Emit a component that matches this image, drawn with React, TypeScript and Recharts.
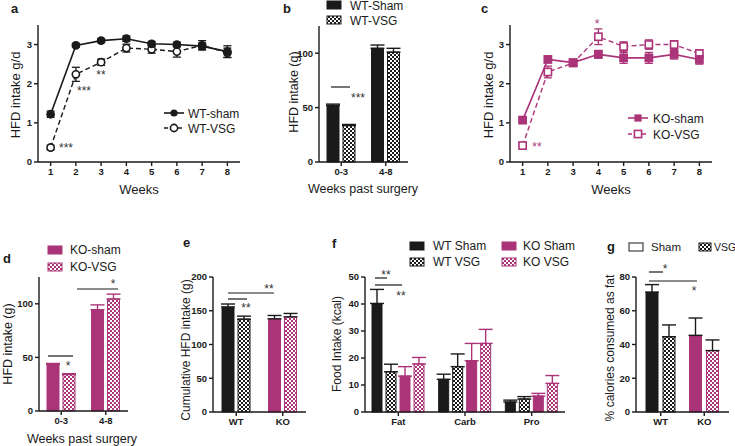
import React from 'react';
import { LineChart, Line, BarChart, Bar, XAxis, YAxis, ErrorBar, Cell } from 'recharts';

const FONT = '"Liberation Sans", Arial, Helvetica, sans-serif';
const INK = '#1a1a1a';
const MAGENTA = '#ab3479';

// a / c: weekly intake (g/d)
const weeks = [1, 2, 3, 4, 5, 6, 7, 8];
const wtShamDaily = [1.22, 2.98, 3.1, 3.15, 3.02, 3.0, 2.96, 2.82];
const wtShamDailyErr = [0.08, 0.05, 0.05, 0.07, 0.06, 0.06, 0.08, 0.15];
const wtVsgDaily = [0.37, 2.24, 2.55, 2.91, 2.88, 2.82, 2.98, 2.79];
const wtVsgDailyErr = [0.06, 0.18, 0.08, 0.1, 0.1, 0.14, 0.12, 0.12];
const koShamDaily = [1.07, 2.62, 2.54, 2.75, 2.66, 2.66, 2.75, 2.62];
const koShamDailyErr = [0.05, 0.07, 0.08, 0.1, 0.14, 0.14, 0.12, 0.12];
const koVsgDaily = [0.42, 2.3, 2.53, 3.2, 2.95, 3.0, 3.0, 2.77];
const koVsgDailyErr = [0.08, 0.15, 0.08, 0.2, 0.12, 0.12, 0.1, 0.1];

// b / d: intake per period (g)
const periods = ['0-3', '4-8'];
const wtShamPeriod = [52, 104.5];
const wtShamPeriodErr = [1.2, 3];
const wtVsgPeriod = [33.5, 101];
const wtVsgPeriodErr = [1, 3.5];
const koShamPeriod = [43.5, 94.5];
const koShamPeriodErr = [0.8, 4.5];
const koVsgPeriod = [34, 104.5];
const koVsgPeriodErr = [0.8, 4.5];

// e: cumulative intake (g)
const genotypes = ['WT', 'KO'];
const cumSham = [155.5, 138];
const cumShamErr = [4.5, 5];
const cumVsg = [137.5, 141];
const cumVsgErr = [4.5, 5];

// f: food intake by macronutrient (kcal)
const macros = ['Fat', 'Carb', 'Pro'];
const kcalWtSham = [40.2, 12.1, 3.7];
const kcalWtShamErr = [5.2, 1.9, 0.7];
const kcalWtVsg = [14.9, 16.8, 4.8];
const kcalWtVsgErr = [2.8, 4.7, 0.9];
const kcalKoSham = [13.3, 19, 5.9];
const kcalKoShamErr = [3.5, 6.4, 1];
const kcalKoVsg = [17.8, 25.4, 10.6];
const kcalKoVsgErr = [2.4, 5.2, 2.9];

// g: % calories as fat
const fatSham = [71, 45.4];
const fatShamErr = [4.5, 10.3];
const fatVsg = [44.6, 36.4];
const fatVsgErr = [7, 6.3];

const dailyWT = weeks.map((w, i) => ({
  week: w, sham: wtShamDaily[i], shamErr: wtShamDailyErr[i], vsg: wtVsgDaily[i], vsgErr: wtVsgDailyErr[i],
}));
const dailyKO = weeks.map((w, i) => ({
  week: w, sham: koShamDaily[i], shamErr: koShamDailyErr[i], vsg: koVsgDaily[i], vsgErr: koVsgDailyErr[i],
}));
const periodWT = periods.map((p, i) => ({
  period: p, sham: wtShamPeriod[i], shamErr: [0, wtShamPeriodErr[i]], vsg: wtVsgPeriod[i], vsgErr: [0, wtVsgPeriodErr[i]],
}));
const periodKO = periods.map((p, i) => ({
  period: p, sham: koShamPeriod[i], shamErr: [0, koShamPeriodErr[i]], vsg: koVsgPeriod[i], vsgErr: [0, koVsgPeriodErr[i]],
}));
const cumData = genotypes.map((g, i) => ({
  genotype: g, sham: cumSham[i], shamErr: [0, cumShamErr[i]], vsg: cumVsg[i], vsgErr: [0, cumVsgErr[i]],
}));
const kcalData = macros.map((m, i) => ({
  macro: m,
  wtSham: kcalWtSham[i], wtShamErr: [0, kcalWtShamErr[i]],
  wtVsg: kcalWtVsg[i], wtVsgErr: [0, kcalWtVsgErr[i]],
  koSham: kcalKoSham[i], koShamErr: [0, kcalKoShamErr[i]],
  koVsg: kcalKoVsg[i], koVsgErr: [0, kcalKoVsgErr[i]],
}));
const fatData = genotypes.map((g, i) => ({
  genotype: g, sham: fatSham[i], shamErr: [0, fatShamErr[i]], vsg: fatVsg[i], vsgErr: [0, fatVsgErr[i]],
}));

const tickStyle = { fontSize: 9.5, fontWeight: 'bold', fill: INK, fontFamily: FONT };
const axisLine = { stroke: INK, strokeWidth: 1.4 };
const shamFill = [INK, MAGENTA];
const vsgFill = ['url(#chkBlack)', 'url(#chkPink)'];

const circleDot = (color: string, open: boolean) => (p: any) => (
  <circle key={`c-${p.index}`} cx={p.cx} cy={p.cy} r={3.6} fill={open ? '#fff' : color} stroke={color} strokeWidth={1.6} />
);
const squareDot = (color: string, open: boolean) => (p: any) => (
  <rect key={`s-${p.index}`} x={p.cx - 3.6} y={p.cy - 3.6} width={7.2} height={7.2} fill={open ? '#fff' : color} stroke={color} strokeWidth={1.6} />
);

function WeeklyChart({ data, color, square }: { data: any[]; color: string; square?: boolean }) {
  const dot = square ? squareDot : circleDot;
  return (
    <LineChart width={245} height={200} data={data} margin={{ top: 25, right: 5, left: 0, bottom: 0 }}>
      <XAxis dataKey="week" type="number" domain={[0.5, 8.5]} ticks={weeks} height={38}
        tick={tickStyle} tickSize={4} axisLine={axisLine} tickLine={axisLine} />
      <YAxis type="number" domain={[0, 3.5]} ticks={[0, 1, 2, 3]} width={38}
        tick={tickStyle} tickSize={4} axisLine={axisLine} tickLine={axisLine} />
      <Line dataKey="vsg" stroke={color} strokeWidth={1.4} strokeDasharray="5 3" dot={dot(color, true)} isAnimationActive={false}>
        <ErrorBar dataKey="vsgErr" direction="y" width={4} stroke={color} strokeWidth={1.3} />
      </Line>
      <Line dataKey="sham" stroke={color} strokeWidth={1.6} dot={dot(color, false)} isAnimationActive={false}>
        <ErrorBar dataKey="shamErr" direction="y" width={4} stroke={color} strokeWidth={1.3} />
      </Line>
    </LineChart>
  );
}

function PeriodChart({ data, color, pattern, top, xHeight }: { data: any[]; color: string; pattern: string; top: number; xHeight: number }) {
  return (
    <BarChart width={135} height={200} data={data} barSize={12} barGap={4}
      margin={{ top, right: 7, left: 0, bottom: 0 }}>
      <XAxis dataKey="period" height={xHeight} tick={tickStyle} tickSize={4} axisLine={axisLine} tickLine={axisLine} />
      <YAxis type="number" domain={[0, 125]} ticks={[0, 50, 100]} width={39}
        tick={tickStyle} tickSize={4} axisLine={axisLine} tickLine={axisLine} />
      <Bar dataKey="sham" fill={color} stroke={color} strokeWidth={1} isAnimationActive={false}>
        <ErrorBar dataKey="shamErr" width={7} stroke={color} strokeWidth={1.4} />
      </Bar>
      <Bar dataKey="vsg" fill={pattern} stroke={color} strokeWidth={1} isAnimationActive={false}>
        <ErrorBar dataKey="vsgErr" width={7} stroke={color} strokeWidth={1.4} />
      </Bar>
    </BarChart>
  );
}

function GenotypeChart({ data, max, ticks, gap, padding }: { data: any[]; max: number; ticks: number[]; gap: number; padding?: any }) {
  return (
    <BarChart width={135} height={200} data={data} barSize={12} barGap={gap}
      margin={{ top: 37, right: 4, left: 0, bottom: 0 }}>
      <XAxis dataKey="genotype" height={28} padding={padding} tick={tickStyle} tickSize={4} axisLine={axisLine} tickLine={axisLine} />
      <YAxis type="number" domain={[0, max]} ticks={ticks} width={38}
        tick={tickStyle} tickSize={4} axisLine={axisLine} tickLine={axisLine} />
      <Bar dataKey="sham" isAnimationActive={false} strokeWidth={1}>
        {data.map((_, i) => <Cell key={`sh-${i}`} fill={shamFill[i]} stroke={shamFill[i]} />)}
        <ErrorBar dataKey="shamErr" width={7} stroke={INK} strokeWidth={1.4} />
      </Bar>
      <Bar dataKey="vsg" isAnimationActive={false} strokeWidth={1}>
        {data.map((_, i) => <Cell key={`vs-${i}`} fill={vsgFill[i]} stroke={shamFill[i]} />)}
        <ErrorBar dataKey="vsgErr" width={7} stroke={INK} strokeWidth={1.4} />
      </Bar>
    </BarChart>
  );
}

function KcalChart() {
  const series = [
    { key: 'wtSham', fill: INK, stroke: INK },
    { key: 'wtVsg', fill: 'url(#chkBlack)', stroke: INK },
    { key: 'koSham', fill: MAGENTA, stroke: MAGENTA },
    { key: 'koVsg', fill: 'url(#chkPink)', stroke: MAGENTA },
  ];
  return (
    <BarChart width={245} height={200} data={kcalData} barSize={10} barGap={4}
      margin={{ top: 37, right: 5, left: 0, bottom: 0 }}>
      <XAxis dataKey="macro" height={28} tick={tickStyle} tickSize={4} axisLine={axisLine} tickLine={axisLine} />
      <YAxis type="number" domain={[0, 50]} ticks={[0, 10, 20, 30, 40, 50]} width={40}
        tick={tickStyle} tickSize={4} axisLine={axisLine} tickLine={axisLine} />
      {series.map((s) => (
        <Bar key={s.key} dataKey={s.key} fill={s.fill} stroke={s.stroke} strokeWidth={1} isAnimationActive={false}>
          <ErrorBar dataKey={`${s.key}Err`} width={7} stroke={s.stroke} strokeWidth={1.4} />
        </Bar>
      ))}
    </BarChart>
  );
}

const Txt = (p: any) => <text fontFamily={FONT} fill={INK} {...p} />;
const Star = ({ x, y, s, c = '#333' }: any) => (
  <text x={x} y={y + 6} textAnchor="middle" fontFamily={FONT} fontSize={12} fill={c}>{s}</text>
);
const YTitle = ({ x, y, s, size = 12 }: any) => (
  <text transform={`translate(${x},${y}) rotate(-90)`} textAnchor="middle" dominantBaseline="central"
    fontFamily={FONT} fontSize={size} fill={INK}>{s}</text>
);
const Seg = ({ x1, x2, y }: any) => <line x1={x1} x2={x2} y1={y} y2={y} stroke={INK} strokeWidth={1.2} />;
const Swatch = ({ x, y, fill, stroke = INK, w = 14 }: any) => (
  <rect x={x} y={y - 4} width={w} height={8} fill={fill} stroke={stroke} strokeWidth={1} />
);

function Overlay() {
  return (
    <svg width={735} height={446} style={{ position: 'absolute', left: 0, top: 0, pointerEvents: 'none' }}>
      {/* panel letters */}
      <Txt x={11} y={13} fontSize={13} fontWeight="bold">a</Txt>
      <Txt x={283} y={13} fontSize={13} fontWeight="bold">b</Txt>
      <Txt x={481} y={13} fontSize={13} fontWeight="bold">c</Txt>
      <Txt x={3} y={263} fontSize={13} fontWeight="bold">d</Txt>
      <Txt x={183} y={247} fontSize={13} fontWeight="bold">e</Txt>
      <Txt x={332} y={248} fontSize={13} fontWeight="bold">f</Txt>
      <Txt x={607} y={251} fontSize={13} fontWeight="bold">g</Txt>

      {/* axis titles */}
      <Txt x={139} y={194} fontSize={13} textAnchor="middle">Weeks</Txt>
      <YTitle x={15} y={95} s="HFD intake g/d" size={13} />
      <Txt x={363} y={193} fontSize={12.5} textAnchor="middle">Weeks past surgery</Txt>
      <YTitle x={294} y={92} s="HFD intake (g)" size={12.5} />
      <Txt x={611} y={194} fontSize={13} textAnchor="middle">Weeks</Txt>
      <YTitle x={488} y={95} s="HFD intake g/d" size={13} />
      <Txt x={82} y={443} fontSize={12.5} textAnchor="middle">Weeks past surgery</Txt>
      <YTitle x={8} y={344} s="HFD intake (g)" size={12.5} />
      <YTitle x={186} y={350} s="Cumulative HFD intake (g)" size={12} />
      <YTitle x={337} y={344} s="Food Intake (kcal)" size={12} />
      <YTitle x={610} y={348} s="% calories consumed as fat" size={12} />

      {/* legend a */}
      <line x1={164} x2={184} y1={113} y2={113} stroke={INK} strokeWidth={1.6} />
      <circle cx={174} cy={113} r={3.6} fill={INK} />
      <Txt x={188} y={117.5} fontSize={12}>WT-sham</Txt>
      <line x1={164} x2={184} y1={128} y2={128} stroke={INK} strokeWidth={1.4} strokeDasharray="4 3" />
      <circle cx={174} cy={128} r={3.6} fill="#fff" stroke={INK} strokeWidth={1.6} />
      <Txt x={188} y={132.5} fontSize={12}>WT-VSG</Txt>

      {/* legend b */}
      <Swatch x={327} y={5} fill={INK} />
      <Txt x={350} y={10} fontSize={12}>WT-Sham</Txt>
      <Swatch x={327} y={20} fill="url(#chkBlack)" />
      <Txt x={350} y={25} fontSize={12}>WT-VSG</Txt>

      {/* legend c */}
      <line x1={628} x2={648} y1={118} y2={118} stroke={MAGENTA} strokeWidth={1.6} />
      <rect x={634.4} y={114.4} width={7.2} height={7.2} fill={MAGENTA} />
      <Txt x={653} y={122.5} fontSize={12}>KO-sham</Txt>
      <line x1={628} x2={648} y1={134} y2={134} stroke={MAGENTA} strokeWidth={1.4} strokeDasharray="4 3" />
      <rect x={634.4} y={130.4} width={7.2} height={7.2} fill="#fff" stroke={MAGENTA} strokeWidth={1.6} />
      <Txt x={653} y={138.5} fontSize={12}>KO-VSG</Txt>

      {/* legend d */}
      <Swatch x={48} y={250} fill={MAGENTA} stroke={MAGENTA} />
      <Txt x={70} y={254} fontSize={12}>KO-sham</Txt>
      <Swatch x={48} y={267} fill="url(#chkPink)" stroke={MAGENTA} />
      <Txt x={70} y={271} fontSize={12}>KO-VSG</Txt>

      {/* legend f */}
      <Swatch x={410} y={246} fill={INK} />
      <Txt x={433} y={250} fontSize={12}>WT Sham</Txt>
      <Swatch x={410} y={262} fill="url(#chkBlack)" />
      <Txt x={433} y={266} fontSize={12}>WT VSG</Txt>
      <Swatch x={502} y={246} fill={MAGENTA} stroke={MAGENTA} />
      <Txt x={523} y={250} fontSize={12}>KO Sham</Txt>
      <Swatch x={502} y={262} fill="url(#chkPink)" stroke={MAGENTA} />
      <Txt x={523} y={266} fontSize={12}>KO VSG</Txt>

      {/* legend g */}
      <Swatch x={629} y={247} fill="#fff" />
      <Txt x={651} y={251} fontSize={11.5}>Sham</Txt>
      <Swatch x={699} y={247} fill="url(#chkBlack)" w={12} />
      <Txt x={714} y={251} fontSize={10.5}>VSG</Txt>

      {/* significance marks */}
      <Star x={66} y={146} s="***" />
      <Star x={84} y={89} s="***" />
      <Star x={101} y={73} s="**" />
      <Seg x1={331} x2={350} y={87} />
      <Star x={358} y={96} s="***" />
      <Star x={597} y={22} s="*" c={MAGENTA} />
      <Star x={537} y={145} s="**" c={MAGENTA} />
      <Seg x1={48} x2={73} y={356} />
      <Star x={68} y={364} s="*" />
      <Seg x1={77} x2={118} y={289} />
      <Star x={113} y={282} s="*" />
      <Seg x1={228} x2={274} y={293} />
      <Seg x1={228} x2={247} y={299} />
      <Star x={269} y={287} s="**" />
      <Star x={246} y={306} s="**" />
      <Seg x1={375} x2={387} y={278} />
      <Seg x1={375} x2={402} y={285} />
      <Star x={386} y={273} s="**" />
      <Star x={401} y={294} s="**" />
      <Seg x1={649} x2={663} y={272} />
      <Seg x1={649} x2={697} y={281} />
      <Star x={665} y={267} s="*" />
      <Star x={694} y={289} s="*" />
    </svg>
  );
}

const at = (left: number, top: number): React.CSSProperties => ({ position: 'absolute', left, top });

export default function App() {
  return (
    <div style={{ position: 'absolute', left: 0, top: 0, width: 735, height: 446, background: '#fff', fontFamily: FONT }}>
      <svg width={0} height={0} style={{ position: 'absolute' }}>
        <defs>
          <pattern id="chkBlack" width={4} height={4} patternUnits="userSpaceOnUse">
            <rect width={4} height={4} fill="#fff" />
            <rect width={2} height={2} fill={INK} />
            <rect x={2} y={2} width={2} height={2} fill={INK} />
          </pattern>
          <pattern id="chkPink" width={4} height={4} patternUnits="userSpaceOnUse">
            <rect width={4} height={4} fill="#fff" />
            <rect width={2} height={2} fill={MAGENTA} />
            <rect x={2} y={2} width={2} height={2} fill={MAGENTA} />
          </pattern>
        </defs>
      </svg>
      <div style={at(0, 0)}><WeeklyChart data={dailyWT} color={INK} /></div>
      <div style={at(280, 0)}>
        <PeriodChart data={periodWT} color={INK} pattern="url(#chkBlack)" top={26} xHeight={38} />
      </div>
      <div style={at(472, 0)}><WeeklyChart data={dailyKO} color={MAGENTA} square /></div>
      <div style={at(0, 240)}>
        <PeriodChart data={periodKO} color={MAGENTA} pattern="url(#chkPink)" top={37} xHeight={29} />
      </div>
      <div style={at(175, 240)}>
        <GenotypeChart data={cumData} max={200} ticks={[0, 50, 100, 150, 200]} gap={4} />
      </div>
      <div style={at(325, 240)}><KcalChart /></div>
      <div style={at(598, 240)}>
        <GenotypeChart data={fatData} max={80} ticks={[0, 20, 40, 60, 80]} gap={5} padding={{ left: 3, right: 3 }} />
      </div>
      <Overlay />
    </div>
  );
}
